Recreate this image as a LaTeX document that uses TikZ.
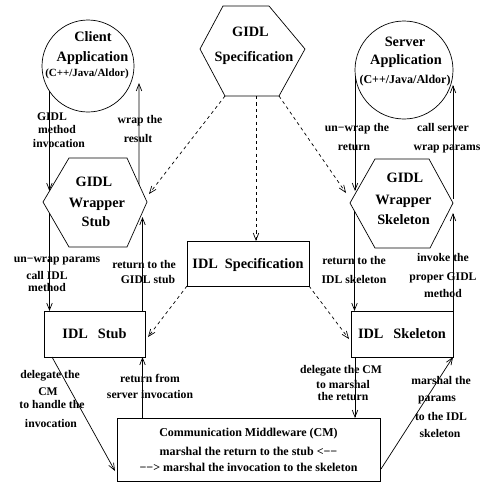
\documentclass[tikz,border=0pt]{standalone}
\usepackage{fontspec}
\setmainfont{Liberation Serif}
\usetikzlibrary{arrows.meta}
\begin{document}
\begin{tikzpicture}[x=1pt,y=-1pt,
  every node/.style={inner sep=0pt, outer sep=0pt},
  big/.style={font=\fontsize{14.3}{16}\selectfont\bfseries, text height=10.5pt, text depth=1.5pt},
  small/.style={font=\fontsize{11}{13}\selectfont\bfseries, text height=8.5pt, text depth=1.5pt},
  srvsmall/.style={font=\fontsize{12}{14}\selectfont\bfseries, text height=9pt, text depth=1.5pt},
  lab/.style={font=\fontsize{11.7}{13}\selectfont\bfseries, text height=9pt, text depth=1.5pt},
  line/.style={line width=0.7pt},
  flow/.style={line, -{Straight Barb[length=7pt,width=5.5pt,line width=0.7pt]}},
  spec/.style={flow, dash pattern=on 3.2pt off 3.2pt},
  box/.style={draw, line width=0.7pt, rectangle},
]
\useasboundingbox (0,0) rectangle (484,483);

% ---------- applications ----------
\node[draw, circle, line, minimum size=92pt] (client) at (88,66) {};
\node[big] (clientA) at (93,37) {Client};
\node[big] (clientB) at (92.5,57) {Application};
\node[small] (clientC) at (87,73) {(C++/Java/Aldor)};

\node[draw, circle, line, minimum size=98pt] (server) at (404,70) {};
\node[big] (serverA) at (405,42) {Server};
\node[big] (serverB) at (406,60) {Application};
\node[srvsmall] (serverC) at (405,80) {(C++/Java/Aldor)};

% ---------- GIDL specification ----------
\coordinate (gspecTL) at (223,6);
\coordinate (gspecTR) at (269,6);
\coordinate (gspecR)  at (305,49);
\coordinate (gspecBR) at (279,96);
\coordinate (gspecBL) at (225,96);
\coordinate (gspecL)  at (200,49);
\draw[line] (gspecTL) -- (gspecTR) -- (gspecR) -- (gspecBR) -- (gspecBL) -- (gspecL) -- cycle;
\node[big] (gspecA) at (250.5,32) {GIDL};
\node[big] (gspecB) at (254,57) {Specification};

% ---------- GIDL wrapper stub ----------
\coordinate (stubTL) at (69,158);
\coordinate (stubTR) at (127,158);
\coordinate (stubR)  at (147,202);
\coordinate (stubBR) at (127,247);
\coordinate (stubBL) at (69,247);
\coordinate (stubL)  at (43,202);
\draw[line] (stubTL) -- (stubTR) -- (stubR) -- (stubBR) -- (stubBL) -- (stubL) -- cycle;
\node[big] (stubA) at (94,182) {GIDL};
\node[big] (stubB) at (97,203) {Wrapper};
\node[big] (stubC) at (96,222) {Stub};

% ---------- GIDL wrapper skeleton ----------
\coordinate (skelTL) at (375,159);
\coordinate (skelTR) at (429,159);
\coordinate (skelR)  at (453,203);
\coordinate (skelBR) at (430,248);
\coordinate (skelBL) at (375,248);
\coordinate (skelL)  at (350,203);
\draw[line] (skelTL) -- (skelTR) -- (skelR) -- (skelBR) -- (skelBL) -- (skelL) -- cycle;
\node[big] (skelA) at (405,178) {GIDL};
\node[big] (skelB) at (403.5,200) {Wrapper};
\node[big] (skelC) at (403.5,220) {Skeleton};

% ---------- IDL level ----------
\node[box, big, minimum width=122pt, minimum height=45pt] (idlspec) at (248,263.5) {IDL\hspace{7pt}Specification};
\node[box, big, minimum width=101pt, minimum height=46pt] (idlstub) at (94.5,334) {IDL\hspace{10pt}Stub};
\node[box, big, minimum width=102pt, minimum height=46pt] (idlskel) at (402,334) {IDL\hspace{10pt}Skeleton};

% ---------- communication middleware ----------
\node[box, minimum width=263pt, minimum height=63pt, align=center,
      font=\fontsize{12}{16}\selectfont\bfseries] (cm) at (248.5,449.5)
  {Communication Middleware (CM)\\[3pt] marshal the return to the stub <−−\\ −−> marshal the invocation to the skeleton};

% ---------- points on the hexagon edges ----------
\path (stubTL) -- (stubL) coordinate[pos=0.75] (stubInL);
\path (stubL) -- (stubBL) coordinate[pos=0.25] (stubOutL);
\path (stubTR) -- (stubR) coordinate[pos=0.6] (stubOutR);
\path (skelL) -- (skelBL) coordinate[pos=0.18] (skelOutL);

% ---------- client side flow ----------
\draw[flow] (client.213) -- (client.213 |- stubInL);
\draw[flow] (stubOutL) -- (stubOutL |- idlstub.north);
\draw[flow] (stubOutR) -- ([shift={(5pt,-17pt)}]client.east);
\coordinate (stubRet) at ([xshift=-2.5pt]idlstub.north east);
\draw[flow] (stubRet) -- ([yshift=94pt]stubRet);
\coordinate (cmRet) at ([xshift=25.5pt]cm.north west);
\draw[flow] (cmRet) -- (cmRet |- idlstub.south);
\draw[flow] ([xshift=8pt]idlstub.south west) -- ([shift={(-2pt,-21.5pt)}]cm.west);

% ---------- server side flow ----------
\coordinate (srvDown) at ([yshift=-7pt]server.west);
\draw[flow] (srvDown) -- ([yshift=12pt]srvDown |- skelL);
\draw[flow] (skelOutL) -- (skelOutL |- idlskel.north);
\draw[flow] ([yshift=4pt]skelR) -- ([yshift=-15pt]server.east);
\draw[flow] (idlskel.north east) -- ([yshift=-10pt]skelR);
\coordinate (skelDown) at ([xshift=4pt]idlskel.south west);
\draw[flow] (skelDown) -- (skelDown |- cm.north);
\draw[flow] ([shift={(1pt,-19.5pt)}]cm.east) -- (idlskel.south east);

% ---------- specification dependencies ----------
\draw[spec] (gspecBL) -- ([shift={(2pt,8pt)}]stubR);
\coordinate (specDrop) at ([xshift=8pt]idlspec.north);
\draw[spec] (specDrop |- gspecBL) -- (specDrop);
\draw[spec] (gspecBR) -- ([shift={(-4pt,10pt)}]skelL);
\draw[spec] (idlspec.south west) -- ([shift={(3pt,-3pt)}]idlstub.east);
\draw[spec] (idlspec.south east) -- ([shift={(-2pt,-5pt)}]idlskel.west);

% ---------- labels, client side ----------
\node[lab] (l1a) at (52,117) {GIDL};
\node[lab] (l1b) at (57,130) {method};
\node[lab] (l1c) at (59,144) {invocation};
\node[lab] (l2a) at (140,120) {wrap the};
\node[lab] (l2b) at (138,139) {result};
\node[lab] (l3a) at (57,259) {un−wrap params};
\node[lab] (l3b) at (47,276) {call IDL};
\node[lab] (l3c) at (47,288) {method};
\node[lab] (l4a) at (144,265) {return to the};
\node[lab] (l4b) at (148,280) {GIDL stub};
\node[lab] (l5a) at (50,375) {delegate the};
\node[lab] (l5b) at (48,392) {CM};
\node[lab] (l5c) at (52,405) {to handle the};
\node[lab] (l5d) at (51,424) {invocation};
\node[lab] (l6a) at (150,379) {return from};
\node[lab] (l6b) at (150,395) {server invocation};

% ---------- labels, server side ----------
\node[lab] (r1a) at (357,128) {un−wrap the};
\node[lab] (r1b) at (354,147) {return};
\node[lab] (r2a) at (443,128) {call server};
\node[lab] (r2b) at (447,147) {wrap params};
\node[lab] (r3a) at (354,261) {return to the};
\node[lab] (r3b) at (354,280) {IDL skeleton};
\node[lab] (r4a) at (443,258) {invoke the};
\node[lab] (r4b) at (443,277) {proper GIDL};
\node[lab] (r4c) at (443,294) {method};
\node[lab] (r5a) at (341,370) {delegate the CM};
\node[lab] (r5b) at (343,385) {to marshal};
\node[lab] (r5c) at (343,397) {the return};
\node[lab] (r6a) at (441,381) {marshal the};
\node[lab] (r6b) at (437,398) {params};
\node[lab] (r6c) at (441,417) {to the IDL};
\node[lab] (r6d) at (440,434) {skeleton};
\end{tikzpicture}
\end{document}
